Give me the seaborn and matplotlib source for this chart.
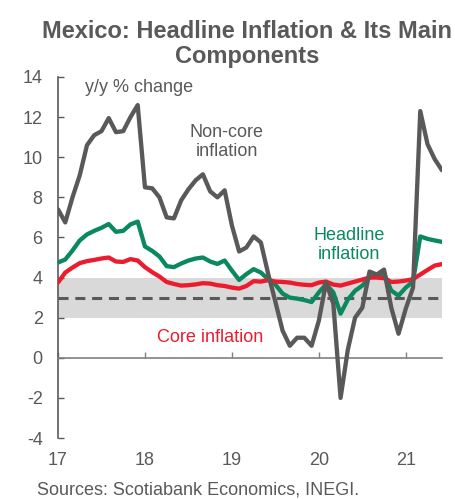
import numpy as np
import pandas as pd
import matplotlib
matplotlib.use("Agg")
import matplotlib.pyplot as plt
import seaborn as sns

# ================================
# DATA (monthly from Jan 2017)
# ================================
non_core = [7.4, 6.75, 8.0, 9.1, 10.6, 11.1, 11.3, 11.95, 11.25, 11.3, 12.0, 12.6,
            8.5, 8.45, 8.0, 7.0, 6.95, 7.85, 8.4, 8.85, 9.15, 8.3, 8.0, 8.35,
            6.6, 5.3, 5.5, 6.05, 5.75, 4.2, 2.8, 1.35, 0.6, 1.0, 1.0, 0.6,
            1.85, 3.75, 2.7, -2.0, 0.4, 2.0, 2.5, 4.3, 4.15, 4.4, 2.5, 1.2,
            2.45, 3.5, 12.3, 10.65, 9.9, 9.35]
headline = [4.75, 4.9, 5.35, 5.85, 6.15, 6.33, 6.48, 6.67, 6.28, 6.33, 6.65, 6.79,
            5.55, 5.33, 5.05, 4.57, 4.52, 4.7, 4.85, 4.95, 5.0, 4.8, 4.68, 4.85,
            4.35, 3.88, 4.17, 4.42, 4.25, 3.92, 3.65, 3.2, 3.0, 2.95, 2.88, 2.78,
            3.26, 3.67, 3.26, 2.2, 2.9, 3.34, 3.6, 4.0, 4.15, 4.2, 3.35, 3.1,
            3.5, 3.8, 6.05, 5.93, 5.85, 5.78]
core = [3.75, 4.25, 4.5, 4.72, 4.82, 4.88, 4.95, 5.0, 4.8, 4.78, 4.92, 4.85,
        4.52, 4.27, 4.05, 3.78, 3.68, 3.6, 3.62, 3.66, 3.72, 3.7, 3.62, 3.58,
        3.5, 3.45, 3.58, 3.82, 3.8, 3.87, 3.8, 3.78, 3.75, 3.68, 3.64, 3.62,
        3.75, 3.8, 3.65, 3.6, 3.7, 3.8, 3.9, 4.0, 4.0, 3.97, 3.78, 3.8,
        3.85, 3.92, 4.15, 4.38, 4.6, 4.67]
year_labels = ['17', '18', '19', '20', '21']
target_low, target_mid, target_high = 2, 3, 4

months = np.arange(len(core))
df = pd.DataFrame({
    'month': np.tile(months, 3),
    'value': headline + core + non_core,
    'series': ['Headline'] * len(months) + ['Core'] * len(months) + ['Non-core'] * len(months),
})

GRAY = '#595959'
GREEN = '#0a8a5c'
RED = '#ec1c2e'

# ================================
# PLOT
# ================================
sns.set_style('white')
plt.rcParams['font.family'] = ['Liberation Sans', 'DejaVu Sans']
plt.rcParams['axes.unicode_minus'] = False

fig = plt.figure(figsize=(4.56, 4.99), dpi=100)
ax = fig.add_axes([0.1272, 0.1222, 0.8421, 0.7235])

ax.axhspan(target_low, target_high, color='#d9d9d9', lw=0, zorder=0)
ax.axhline(target_mid, color=GRAY, lw=2.2, ls=(0, (3.3, 2.2)), zorder=1)

sns.lineplot(data=df, x='month', y='value', hue='series',
             hue_order=['Headline', 'Core', 'Non-core'],
             palette={'Headline': GREEN, 'Core': RED, 'Non-core': GRAY},
             linewidth=3.1, legend=False, ax=ax, zorder=3)

ax.set_xlim(0, len(months) - 1)
ax.set_ylim(-4, 14)
ax.set_yticks(range(-4, 15, 2))
ax.set_xticks(range(0, len(months), 12))
ax.set_xticklabels(year_labels)
ax.set_xlabel('')
ax.set_ylabel('')

for s in ['top', 'right']:
    ax.spines[s].set_visible(False)
ax.spines['bottom'].set_position(('data', 0))
ax.spines['bottom'].set_color('#808080')
ax.spines['left'].set_color('#595959')
ax.spines['bottom'].set_linewidth(1.2)
ax.spines['left'].set_linewidth(1.2)

ax.tick_params(axis='y', direction='in', length=4, width=1, color='#595959',
               pad=11, labelsize=13, labelcolor=GRAY, left=True)
ax.tick_params(axis='x', direction='in', length=4, width=1, color='#808080',
               pad=68, labelsize=13, labelcolor=GRAY, bottom=True)

# annotations
ax.text(0.07, 0.97, 'y/y % change', transform=ax.transAxes, fontsize=13,
        color=GRAY, ha='left', va='center')
fig.text(226.5 / 456, 1 - 142 / 499, 'Non-core\ninflation', fontsize=13,
         color=GRAY, ha='center', va='center')
fig.text(349 / 456, 1 - 245 / 499, 'Headline\ninflation', fontsize=13,
         color=GREEN, ha='center', va='center')
fig.text(210 / 456, 1 - 337 / 499, 'Core inflation', fontsize=13,
         color=RED, ha='center', va='center')

# title and source
fig.text(247 / 456, 1 - 32 / 499, 'Mexico: Headline Inflation & Its Main',
         fontsize=17, fontweight='bold', color=GRAY, ha='center', va='center')
fig.text(247 / 456, 1 - 57 / 499, 'Components',
         fontsize=17, fontweight='bold', color=GRAY, ha='center', va='center')
fig.text(37 / 456, 1 - 490 / 499, 'Sources: Scotiabank Economics, INEGI.',
         fontsize=13, color=GRAY, ha='left', va='center')

fig.savefig('out.png', dpi=100)
